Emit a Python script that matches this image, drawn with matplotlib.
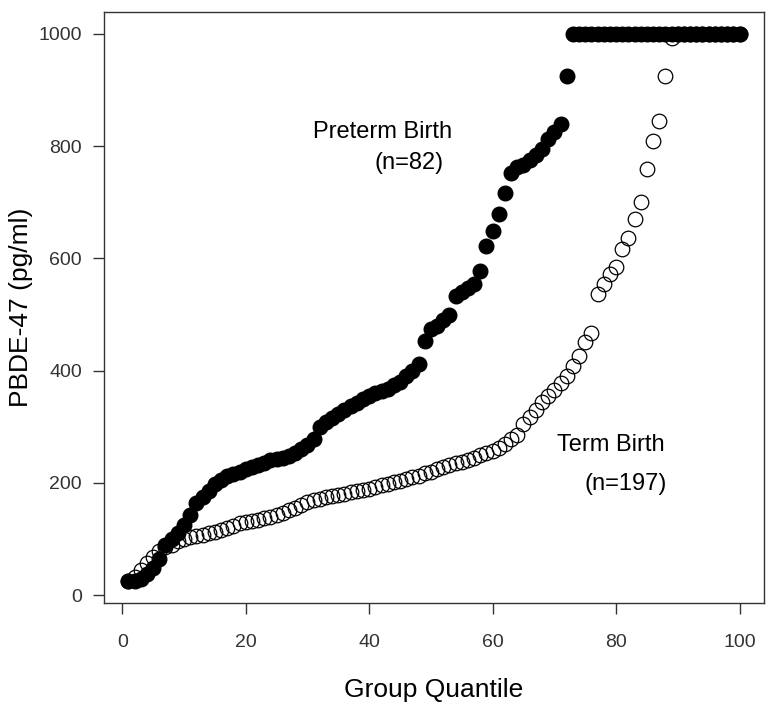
# Recreate PBDE-47 quantile plot: preterm vs term birth
import numpy as np
import matplotlib.pyplot as plt

plt.rcParams['font.family'] = ['Liberation Sans', 'DejaVu Sans']

# Group quantile index (1..100)
quantile = np.arange(1, 101)

# Preterm birth (n=82) values, pg/ml (capped at 1000)
preterm = [25, 25, 28, 38, 48, 65, 90, 100, 110, 125,
           142, 165, 175, 185, 198, 205, 212, 216, 220, 224,
           228, 232, 236, 240, 242, 244, 248, 254, 260, 268,
           278, 300, 308, 315, 322, 330, 337, 343, 350, 355,
           360, 364, 368, 374, 380, 391, 400, 412, 453, 474,
           480, 490, 500, 533, 540, 548, 555, 577, 622, 648,
           680, 716, 752, 762, 767, 775, 785, 795, 812, 825,
           840, 925] + [1000] * 28

# Term birth (n=197) values, pg/ml (capped at 1000)
term = [25, 32, 45, 58, 68, 78, 85, 90, 96, 100,
        103, 106, 108, 110, 113, 116, 120, 124, 128, 131,
        132, 134, 137, 140, 143, 147, 151, 155, 160, 166,
        170, 172, 174, 176, 178, 180, 183, 186, 188, 190,
        193, 196, 198, 201, 204, 207, 210, 213, 217, 220,
        224, 228, 232, 236, 238, 241, 245, 249, 253, 257,
        262, 270, 278, 285, 305, 318, 330, 344, 355, 366,
        378, 390, 409, 426, 451, 467, 536, 554, 572, 584,
        616, 637, 670, 700, 760, 810, 845, 925, 993] + [1000] * 11

fig = plt.figure(figsize=(7.79, 7.12), dpi=100)
ax = fig.add_axes([0.1335, 0.1531, 0.8472, 0.83])

# Open circles for term, filled for preterm
ax.plot(quantile, term, 'o', mfc='none', mec='black', mew=0.9, ms=10.5)
ax.plot(quantile, preterm, 'o', mfc='black', mec='black', ms=10.5)

# Annotations
ax.text(42.1, 825, 'Preterm Birth', ha='center', va='center', fontsize=17)
ax.text(46.5, 770, '(n=82)', ha='center', va='center', fontsize=17)
ax.text(79.2, 267, 'Term Birth', ha='center', va='center', fontsize=17)
ax.text(81.5, 198, '(n=197)', ha='center', va='center', fontsize=17)

# R-like axes
ax.set_xlim(-2.96, 103.96)
ax.set_ylim(-14, 1039)
ax.set_xticks([0, 20, 40, 60, 80, 100])
ax.set_yticks([0, 200, 400, 600, 800, 1000])
ax.tick_params(direction='out', length=8, width=1, colors='#333333',
               labelsize=14)
ax.tick_params(axis='x', pad=14)
ax.tick_params(axis='y', pad=8)
for s in ax.spines.values():
    s.set_color('#333333')
    s.set_linewidth(1)

ax.set_xlabel('Group Quantile', fontsize=19, labelpad=20)
ax.set_ylabel('PBDE-47 (pg/ml)', fontsize=19, labelpad=4)

plt.savefig('out.png', dpi=100)
